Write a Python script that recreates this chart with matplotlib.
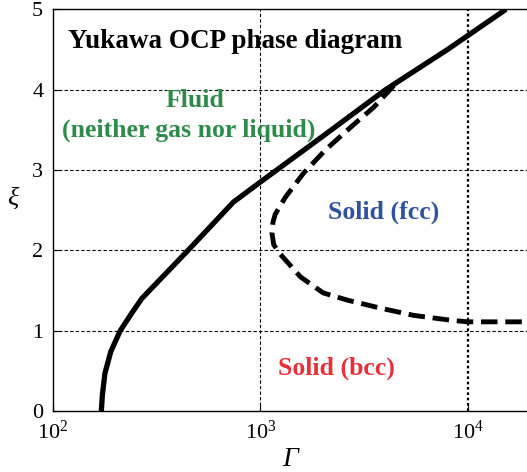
import matplotlib

matplotlib.use("Agg")
import matplotlib.pyplot as plt

# melting line (fluid / solid boundary)
solid_gamma = [171, 173, 178, 190, 211, 240, 268, 448, 741, 1000, 2000, 4020, 8000, 15300]
solid_xi = [0.0, 0.2, 0.47, 0.74, 1.0, 1.22, 1.40, 2.0, 2.6, 2.85, 3.42, 4.0, 4.5, 5.0]

# bcc / fcc boundary
dash_gamma = [4400, 3520, 2720, 2060, 1615, 1320, 1180, 1150, 1137, 1160, 1250, 1560,
              2010, 2630, 3800, 5500, 8280, 10000, 19300]
dash_xi = [4.05, 3.78, 3.53, 3.25, 2.96, 2.66, 2.45, 2.35, 2.22, 2.07, 1.95, 1.67,
           1.47, 1.38, 1.28, 1.19, 1.13, 1.11, 1.11]

x_ticks = [1e2, 1e3, 1e4]
x_ticklabels = ["$10^2$", "$10^3$", "$10^4$"]
y_ticks = [0, 1, 2, 3, 4, 5]

plt.rcParams["font.family"] = ["Liberation Serif", "DejaVu Serif"]
plt.rcParams["mathtext.fontset"] = "custom"
plt.rcParams["mathtext.rm"] = "Liberation Serif"
plt.rcParams["mathtext.it"] = "Liberation Serif:italic"

fig = plt.figure(figsize=(5.27, 4.72), dpi=100)
ax = fig.add_axes([0.1006, 0.1292, 0.8994, 0.8511])

for y in y_ticks[1:-1]:
    ax.axhline(y, color="black", lw=0.8, ls=(0, (3, 2)), zorder=1)
ax.axvline(1e3, color="black", lw=0.8, ls=(0, (3, 2)), zorder=1)
ax.axvline(1e4, color="black", lw=1.6, ls=(0, (1.2, 1.2)), zorder=1)

ax.plot(solid_gamma, solid_xi, color="black", lw=3.8, solid_capstyle="butt", zorder=3)
ax.plot(dash_gamma, dash_xi, color="black", lw=3.5, dashes=(3.4, 1.6), zorder=3)

ax.set_xscale("log")
ax.set_xlim(100, 10 ** 4.286)
ax.set_ylim(0, 5)
ax.set_xticks(x_ticks)
ax.set_xticklabels(x_ticklabels)
ax.minorticks_off()
ax.set_yticks(y_ticks)
ax.tick_params(direction="in", length=5, labelsize=16, pad=7)
ax.spines["right"].set_visible(False)
for s in ("left", "bottom", "top"):
    ax.spines[s].set_linewidth(1.0)

ax.set_xlabel("Γ", fontsize=20, style="italic", labelpad=2)
ax.set_ylabel("ξ", fontsize=19, style="italic", rotation=0, labelpad=14)

ax.text(68, 430, "Yukawa OCP phase diagram", transform=None, fontsize=19.5,
        fontweight="bold", va="center", ha="left")
ax.text(0.30, 0.774, "Fluid", transform=ax.transAxes, fontsize=18.5,
        fontweight="bold", color="#2e8b4a", ha="center", va="center")
ax.text(0.287, 0.699, "(neither gas nor liquid)", transform=ax.transAxes,
        fontsize=18.5, fontweight="bold", color="#2e8b4a", ha="center", va="center")
ax.text(0.698, 0.495, "Solid (fcc)", transform=ax.transAxes, fontsize=18.5,
        fontweight="bold", color="#2f52a0", ha="center", va="center")
ax.text(0.597, 0.107, "Solid (bcc)", transform=ax.transAxes, fontsize=18.5,
        fontweight="bold", color="#e8303a", ha="center", va="center")

fig.savefig("out.png", dpi=100)
